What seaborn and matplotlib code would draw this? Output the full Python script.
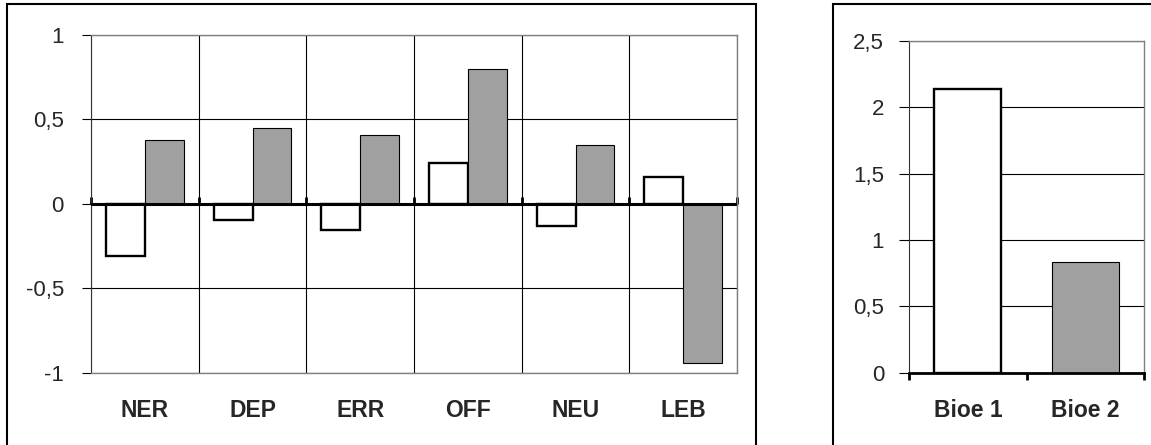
import numpy as np
import pandas as pd
import matplotlib
matplotlib.use("Agg")
import matplotlib.pyplot as plt
from matplotlib.patches import Rectangle
import seaborn as sns

# data
scales = ["NER", "DEP", "ERR", "OFF", "NEU", "LEB"]
group1 = [-0.31, -0.095, -0.155, 0.24, -0.13, 0.16]
group2 = [0.38, 0.45, 0.41, 0.80, 0.35, -0.94]
left_ticks = [-1, -0.5, 0, 0.5, 1]
left_labels = ["-1", "-0,5", "0", "0,5", "1"]

bioe = ["Bioe 1", "Bioe 2"]
bioe_vals = [2.14, 0.83]
right_ticks = [0, 0.5, 1, 1.5, 2, 2.5]
right_labels = ["0", "0,5", "1", "1,5", "2", "2,5"]

colors = ["white", "#a0a0a0"]
frame_gray = "#808080"

sns.set_style("white")
plt.rcParams["font.family"] = ["Liberation Sans", "DejaVu Sans"]

df = pd.DataFrame({
    "scale": scales * 2,
    "value": group1 + group2,
    "group": ["g1"] * len(scales) + ["g2"] * len(scales),
})
df_b = pd.DataFrame({"name": bioe, "value": bioe_vals})

fig = plt.figure(figsize=(11.51, 4.45), dpi=100)
ax1 = fig.add_axes([0.0791, 0.1618, 0.5613, 0.7596])
ax2 = fig.add_axes([0.7898, 0.1625, 0.2042, 0.7460])

# outer frames around each chart
fig.add_artist(Rectangle((0.0061, -0.05), 0.6507, 1.041, transform=fig.transFigure,
                         fill=False, edgecolor="black", lw=1.5))
fig.add_artist(Rectangle((0.7237, -0.05), 0.5, 1.041, transform=fig.transFigure,
                         fill=False, edgecolor="black", lw=1.5))


def style_bars(ax):
    for cont, col in zip(ax.containers, colors):
        for p in cont:
            p.set_edgecolor("black")
            p.set_linewidth(1.7 if col == "white" else 0.8)
            p.set_zorder(3)


# ---- left chart
sns.barplot(data=df, x="scale", y="value", hue="group", palette=colors,
            width=0.72, gap=0, legend=False, ax=ax1)
style_bars(ax1)
ax1.set_axisbelow(True)
ax1.set_xlim(-0.5, len(scales) - 0.5)
ax1.set_ylim(-1, 1)
ax1.set_yticks(left_ticks)
ax1.set_yticklabels(left_labels)
ax1.set_xticks(np.arange(-0.5, len(scales)), minor=True)
ax1.grid(which="minor", axis="x", color="black", lw=0.8)
ax1.grid(which="major", axis="y", color="black", lw=0.8)
ax1.tick_params(axis="x", which="both", length=0, pad=19, labelsize=16.5)
ax1.tick_params(axis="y", direction="out", length=6.5, width=0.8, color="black",
                pad=13, labelsize=16, left=True)
for lab in ax1.get_xticklabels():
    lab.set_fontweight("bold")
for s in ["top", "right", "bottom"]:
    ax1.spines[s].set_color(frame_gray)
    ax1.spines[s].set_linewidth(1)
ax1.spines["left"].set_color("#333333")
ax1.spines["left"].set_linewidth(0.8)
ax1.set_xlabel("")
ax1.set_ylabel("")

# zero line with small ticks at the category boundaries
ax1.axhline(0, color="black", lw=2.2, zorder=4)
zero = ax1.secondary_xaxis(0.5)
zero.set_xticks(np.arange(-0.5, len(scales)))
zero.set_xticklabels([])
zero.tick_params(direction="out", length=5, width=2, color="black")
zero.spines["bottom"].set_visible(False)

# ---- right chart
sns.barplot(data=df_b, x="name", y="value", hue="name", palette=colors,
            width=0.57, legend=False, ax=ax2)
style_bars(ax2)
ax2.set_axisbelow(True)
ax2.set_xlim(-0.5, len(bioe) - 0.5)
ax2.set_ylim(0, 2.5)
ax2.set_yticks(right_ticks)
ax2.set_yticklabels(right_labels)
ax2.grid(which="major", axis="y", color="black", lw=0.8)
ax2.set_xticks(np.arange(-0.5, len(bioe)), minor=True)
ax2.tick_params(axis="x", which="major", length=0, pad=19, labelsize=16.5)
ax2.tick_params(axis="x", which="minor", direction="out", length=5, width=2,
                color="black", bottom=True)
ax2.tick_params(axis="y", direction="out", length=7, width=0.8, color="black",
                pad=11, labelsize=16, left=True)
for lab in ax2.get_xticklabels():
    lab.set_fontweight("bold")
for s in ["top", "right"]:
    ax2.spines[s].set_color(frame_gray)
    ax2.spines[s].set_linewidth(1)
ax2.spines["bottom"].set_color("black")
ax2.spines["bottom"].set_linewidth(2)
ax2.spines["bottom"].set_zorder(4)
ax2.spines["left"].set_color("#333333")
ax2.spines["left"].set_linewidth(0.8)
ax2.set_xlabel("")
ax2.set_ylabel("")

fig.savefig("out.png", dpi=100)
